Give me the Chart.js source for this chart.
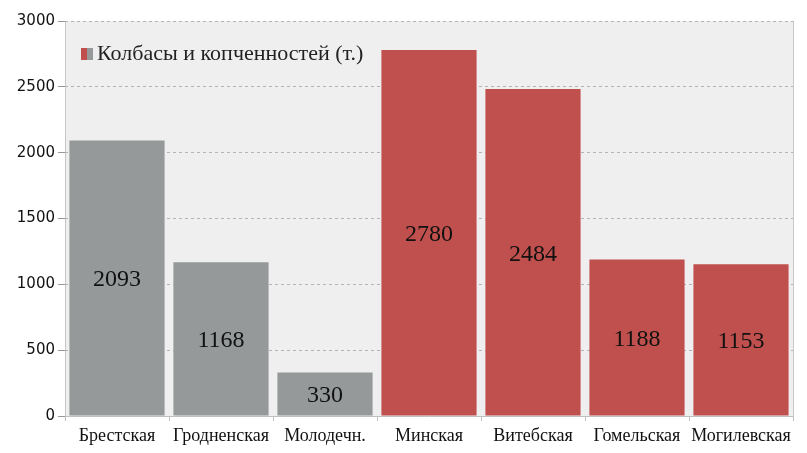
<!DOCTYPE html>
<html>
<head>
<meta charset="utf-8">
<script src="https://cdn.jsdelivr.net/npm/chart.js@4"></script>
<style>
  html,body{margin:0;padding:0;background:#fff;}
  #wrap{width:807px;height:453px;}
</style>
</head>
<body>
<div id="wrap"><canvas id="chart" width="807" height="453"></canvas></div>
<script>
// data
const regions = ['Брестская','Гродненская','Молодечн.','Минская','Витебская','Гомельская','Могилевская'];
const tonnes = [2093, 1168, 330, 2780, 2484, 1188, 1153];
const legendText = 'Колбасы и копченностей (т.)';

const GRAY = '#959999', RED = '#c0504d';
const barColors = regions.map((r,i)=> i<3 ? GRAY : RED);

// plot background + legend + value labels
const extras = {
  id:'extras',
  beforeDraw(chart){
    const {ctx, chartArea:a} = chart;
    ctx.save();
    ctx.fillStyle = '#efefef';
    ctx.fillRect(a.left, a.top, a.right-a.left, a.bottom-a.top);
    ctx.strokeStyle = '#c8c8c8'; ctx.lineWidth = 1;
    ctx.beginPath();
    ctx.moveTo(a.left+0.5, a.top); ctx.lineTo(a.left+0.5, a.bottom);
    ctx.moveTo(a.right+0.5, a.top); ctx.lineTo(a.right+0.5, a.bottom);
    ctx.stroke();
    ctx.restore();
  },
  afterDatasetsDraw(chart){
    const {ctx, chartArea:a} = chart;
    const meta = chart.getDatasetMeta(0);
    ctx.save();
    ctx.font = '24px "Liberation Serif"';
    ctx.fillStyle = '#111';
    ctx.textAlign = 'center'; ctx.textBaseline = 'middle';
    meta.data.forEach((bar,i)=>{
      ctx.fillText(String(tonnes[i]), bar.x, (bar.y + bar.base)/2 + 2);
    });
    // legend
    const lx = a.left + 16, ly = a.top + 27;
    ctx.fillStyle = RED; ctx.fillRect(lx, ly, 6, 12);
    ctx.fillStyle = GRAY; ctx.fillRect(lx+6, ly, 6, 12);
    ctx.font = '22px "Liberation Serif"';
    ctx.fillStyle = '#222';
    ctx.textAlign = 'left'; ctx.textBaseline = 'middle';
    ctx.fillText(legendText, lx + 16, ly + 6);
    ctx.restore();
  }
};

new Chart(document.getElementById('chart').getContext('2d'), {
  type:'bar',
  data:{labels:regions, datasets:[{label:legendText, data:tonnes, backgroundColor:barColors,
    barPercentage:0.915, categoryPercentage:1}]},
  options:{
    responsive:false, animation:false,
    layout:{padding:{left:0, right:14, top:21, bottom:0}},
    plugins:{legend:{display:false}, tooltip:{enabled:false}},
    scales:{
      x:{
        grid:{drawOnChartArea:false, drawTicks:true, tickLength:5, offset:true, color:'#c0c0c0'},
        border:{display:true, color:'#c0c0c0'},
        ticks:{font:{family:'Liberation Serif', size:18}, color:'#111', padding:4, maxRotation:0, autoSkip:false},
        afterFit(s){ s.height = 37; }
      },
      y:{
        min:0, max:3000,
        grid:{color:'#b4b4b4', tickLength:7, tickColor:'#999'},
        border:{display:false, dash:[3,3]},
        ticks:{stepSize:500, font:{family:'DejaVu Sans', size:15}, color:'#111', padding:3,
          callback:v=>String(v)},
        afterFit(s){ s.width = 65; }
      }
    }
  },
  plugins:[extras]
});
</script>
</body>
</html>
